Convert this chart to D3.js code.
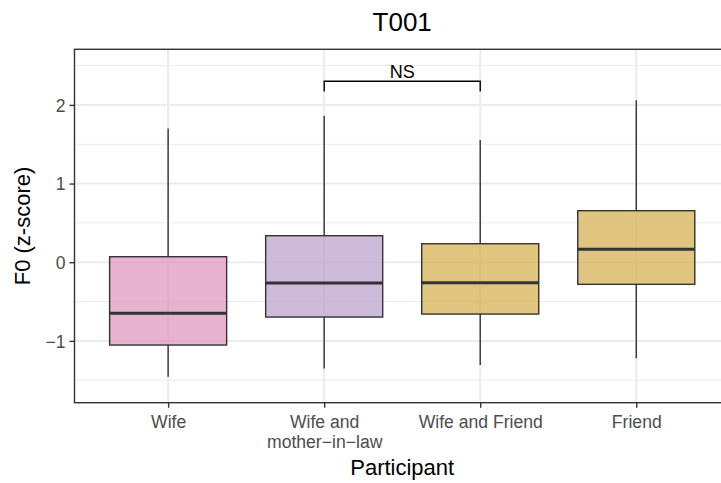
<!DOCTYPE html>
<html>
<head>
<meta charset="utf-8">
<script src="https://cdn.jsdelivr.net/npm/d3@7"></script>
<style>
  html, body { margin: 0; padding: 0; background: #fff; }
  text { font-family: "Liberation Sans", Arial, Helvetica, sans-serif; }
</style>
</head>
<body>
<svg id="chart" width="721" height="483"></svg>
<script>
// ---- data ----
const categories = ["Wife", "Wife and mother\u2212in\u2212law", "Wife and Friend", "Friend"];
const tickLabels = [["Wife"], ["Wife and", "mother\u2212in\u2212law"], ["Wife and Friend"], ["Friend"]];
const lowerWhisker = [-1.456, -1.35, -1.307, -1.222];
const q1 = [-1.053, -0.697, -0.659, -0.281];
const median = [-0.65, -0.264, -0.26, 0.164];
const q3 = [0.07, 0.337, 0.235, 0.655];
const upperWhisker = [1.70, 1.862, 1.554, 2.06];
const fills = ["#DE92BD", "#B89EC9", "#D1AC48", "#D1AC48"];
const yMajor = [-1, 0, 1, 2];
const yMinor = [-1.5, -0.5, 0.5, 1.5, 2.5];
const signif = { from: "Wife and mother\u2212in\u2212law", to: "Wife and Friend", y: 2.30, tipY: 2.17, label: "NS" };
const yDomain = [-1.786, 2.707];

// ---- layout ----
const svg = d3.select("#chart");
const panel = { left: 74.5, right: 729.9, top: 49.3, bottom: 402.7 };

const x = d3.scalePoint().domain(categories).range([panel.left, panel.right]).padding(0.6);
const y = d3.scaleLinear().domain(yDomain).range([panel.bottom, panel.top]);
const boxW = x.step() * 0.75;

const data = categories.map((c, i) => ({
  cat: c, lo: lowerWhisker[i], q1: q1[i], med: median[i], q3: q3[i], hi: upperWhisker[i], fill: fills[i]
}));

// clip for panel
svg.append("defs").append("clipPath").attr("id", "pclip")
  .append("rect").attr("x", panel.left).attr("y", panel.top)
  .attr("width", panel.right - panel.left).attr("height", panel.bottom - panel.top);

const g = svg.append("g").attr("clip-path", "url(#pclip)");

// minor grid
g.selectAll(".minor").data(yMinor).join("line")
  .attr("x1", panel.left).attr("x2", panel.right)
  .attr("y1", d => y(d)).attr("y2", d => y(d))
  .attr("stroke", "#ebebeb").attr("stroke-width", 1);
// major grid
g.selectAll(".major").data(yMajor).join("line")
  .attr("x1", panel.left).attr("x2", panel.right)
  .attr("y1", d => y(d)).attr("y2", d => y(d))
  .attr("stroke", "#ebebeb").attr("stroke-width", 2);
g.selectAll(".vmajor").data(categories).join("line")
  .attr("x1", d => x(d)).attr("x2", d => x(d))
  .attr("y1", panel.top).attr("y2", panel.bottom)
  .attr("stroke", "#ebebeb").attr("stroke-width", 2);

// boxes
const bx = g.selectAll(".box").data(data).join("g");
bx.append("line")
  .attr("x1", d => x(d.cat)).attr("x2", d => x(d.cat))
  .attr("y1", d => y(d.hi)).attr("y2", d => y(d.q3))
  .attr("stroke", "#333").attr("stroke-width", 1.4);
bx.append("line")
  .attr("x1", d => x(d.cat)).attr("x2", d => x(d.cat))
  .attr("y1", d => y(d.q1)).attr("y2", d => y(d.lo))
  .attr("stroke", "#333").attr("stroke-width", 1.4);
bx.append("rect")
  .attr("x", d => x(d.cat) - boxW / 2).attr("width", boxW)
  .attr("y", d => y(d.q3)).attr("height", d => y(d.q1) - y(d.q3))
  .attr("fill", d => d.fill).attr("fill-opacity", 0.7)
  .attr("stroke", "#333").attr("stroke-width", 1.4);
bx.append("line")
  .attr("x1", d => x(d.cat) - boxW / 2).attr("x2", d => x(d.cat) + boxW / 2)
  .attr("y1", d => y(d.med)).attr("y2", d => y(d.med))
  .attr("stroke", "#333").attr("stroke-width", 3);

// significance bracket
const sx1 = x(signif.from), sx2 = x(signif.to);
g.append("path")
  .attr("d", `M${sx1},${y(signif.tipY)}V${y(signif.y)}H${sx2}V${y(signif.tipY)}`)
  .attr("fill", "none").attr("stroke", "#000").attr("stroke-width", 1.4);
g.append("text")
  .attr("x", (sx1 + sx2) / 2).attr("y", y(signif.y) - 3.5)
  .attr("text-anchor", "middle").attr("font-size", 18).attr("fill", "#000")
  .text(signif.label);

// panel border
svg.append("rect")
  .attr("x", panel.left).attr("y", panel.top)
  .attr("width", panel.right - panel.left).attr("height", panel.bottom - panel.top)
  .attr("fill", "none").attr("stroke", "#333").attr("stroke-width", 1.4);

// y axis
const yAxis = svg.append("g").attr("transform", `translate(${panel.left},0)`)
  .call(d3.axisLeft(y).tickValues(yMajor).tickSize(5).tickPadding(4).tickFormat(d => d < 0 ? "\u2212" + Math.abs(d) : d));
yAxis.select(".domain").remove();
yAxis.selectAll(".tick line").attr("stroke", "#333").attr("stroke-width", 1.4);
yAxis.selectAll(".tick text").attr("fill", "#4d4d4d").attr("font-size", 17.6)
  .attr("font-family", "Liberation Sans, Arial, sans-serif").attr("dy", "0.35em");

// x axis
const xAxis = svg.append("g").attr("transform", `translate(0,${panel.bottom})`)
  .call(d3.axisBottom(x).tickSize(5).tickFormat(""));
xAxis.select(".domain").remove();
xAxis.selectAll(".tick line").attr("stroke", "#333").attr("stroke-width", 1.4);
xAxis.selectAll(".tick").each(function(d, i) {
  const t = d3.select(this).append("text")
    .attr("text-anchor", "middle").attr("fill", "#4d4d4d").attr("font-size", 17.6);
  tickLabels[i].forEach((ln, j) => {
    t.append("tspan").attr("x", 0).attr("y", 25 + j * 20.5).text(ln);
  });
});

// titles
svg.append("text").attr("x", (panel.left + 729.9) / 2 + 0).attr("y", 31)
  .attr("text-anchor", "middle").attr("font-size", 26).attr("fill", "#000").text("T001");
svg.append("text").attr("x", (panel.left + 729.9) / 2).attr("y", 475)
  .attr("text-anchor", "middle").attr("font-size", 22).attr("fill", "#000").text("Participant");
svg.append("text").attr("transform", `translate(30,${(panel.top + panel.bottom) / 2}) rotate(-90)`)
  .attr("text-anchor", "middle").attr("font-size", 22).attr("fill", "#000").text("F0 (z-score)");
</script>
</body>
</html>
